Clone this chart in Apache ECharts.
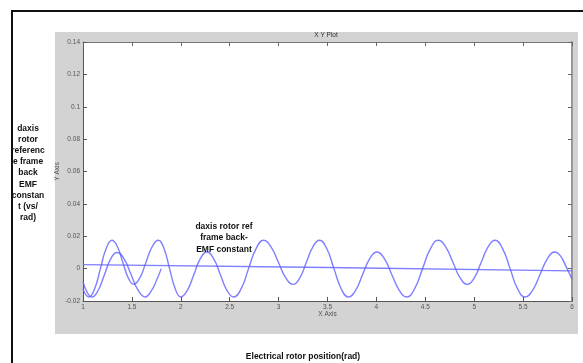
<!DOCTYPE html>
<html>
<head>
<meta charset="utf-8">
<script src="https://cdn.jsdelivr.net/npm/echarts@6/dist/echarts.min.js"></script>
<style>
html,body{margin:0;padding:0;background:#fff;}
#c{width:583px;height:363px;}
</style>
</head>
<body>
<div id="c"></div>
<script>
// ---- data ----
const xTicks = [1, 1.5, 2, 2.5, 3, 3.5, 4, 4.5, 5, 5.5, 6];
const yTicks = [-0.02, 0, 0.02, 0.04, 0.06, 0.08, 0.1, 0.12, 0.14];

// long oscillating curve: [x, y]
const longCurve = [
  [1.00, -0.0125], [1.03, -0.0162], [1.06, -0.0175],
  [1.119, -0.0124], [1.178, 0.0000], [1.237, 0.0124], [1.296, 0.0175],
  [1.352, 0.0135], [1.407, 0.0039], [1.463, -0.0057], [1.518, -0.0097],
  [1.581, -0.0057], [1.644, 0.0039], [1.707, 0.0135], [1.770, 0.0175],
  [1.828, 0.0124], [1.885, 0.0000], [1.943, -0.0124], [2.000, -0.0175],
  [2.067, -0.0134], [2.134, -0.0036], [2.200, 0.0062], [2.267, 0.0103],
  [2.335, 0.0062], [2.404, -0.0036], [2.472, -0.0134], [2.540, -0.0175],
  [2.617, -0.0124], [2.693, 0.0000], [2.770, 0.0124], [2.846, 0.0175],
  [2.922, 0.0135], [2.998, 0.0039], [3.074, -0.0057], [3.150, -0.0097],
  [3.217, -0.0057], [3.284, 0.0039], [3.351, 0.0135], [3.418, 0.0175],
  [3.492, 0.0124], [3.566, 0.0000], [3.640, -0.0124], [3.714, -0.0175],
  [3.787, -0.0134], [3.859, -0.0036], [3.932, 0.0062], [4.004, 0.0103],
  [4.081, 0.0062], [4.157, -0.0036], [4.234, -0.0134], [4.310, -0.0175],
  [4.391, -0.0124], [4.472, 0.0000], [4.553, 0.0124], [4.634, 0.0175],
  [4.708, 0.0135], [4.782, 0.0039], [4.856, -0.0057], [4.930, -0.0097],
  [5.001, -0.0057], [5.072, 0.0039], [5.142, 0.0135], [5.213, 0.0175],
  [5.290, 0.0124], [5.367, 0.0000], [5.443, -0.0124], [5.520, -0.0175],
  [5.597, -0.0134], [5.673, -0.0036], [5.750, 0.0062], [5.826, 0.0103],
  [5.880, 0.0080], [5.940, 0.0012], [6.000, -0.0065]
];
// short oscillating curve
const shortCurve = [
  [1.00, -0.008], [1.045, -0.0149], [1.09, -0.0175],
  [1.154, -0.0135], [1.219, -0.0038], [1.283, 0.0060], [1.347, 0.0100],
  [1.420, 0.0060], [1.492, -0.0038], [1.565, -0.0135], [1.637, -0.0175],
  [1.700, -0.0136], [1.750, -0.0075], [1.800, 0.0000]
];
// nearly flat line (back-EMF constant)
const flatLine = [[1, 0.0025], [3.5, 0.0007], [6, -0.0014]];

const leftLabel = 'daxis\nrotor\nreferenc\ne frame\nback\nEMF\nconstan\nt (vs/\nrad)';
const noteLabel = 'daxis rotor ref\nframe back-\nEMF constant';
const bottomLabel = 'Electrical rotor position(rad)';

const chart = echarts.init(document.getElementById('c'), null, {renderer: 'canvas'});
const lineColor = 'rgba(95,95,255,0.8)';
const fam = 'Liberation Sans, Arial, sans-serif';
const tickFont = {fontSize: 6.5, color: '#555', fontFamily: fam};

chart.setOption({
  animation: false,
  backgroundColor: '#fff',
  graphic: [
    {type: 'rect', z: -10, shape: {x: 55, y: 32, width: 523, height: 302}, style: {fill: '#d3d3d3'}},
    {type: 'line', z: 10, shape: {x1: 12, y1: 11, x2: 583, y2: 11}, style: {stroke: '#111', lineWidth: 2}},
    {type: 'line', z: 10, shape: {x1: 12, y1: 10, x2: 12, y2: 363}, style: {stroke: '#111', lineWidth: 2}},
    {type: 'text', x: 28, y: 173, style: {text: leftLabel, font: 'bold 8.5px ' + fam, fill: '#111', align: 'center', verticalAlign: 'middle', lineHeight: 11.2}},
    {type: 'text', x: 224, y: 238, z: 20, style: {text: noteLabel, font: 'bold 8.5px ' + fam, fill: '#111', align: 'center', verticalAlign: 'middle', lineHeight: 11.3}},
    {type: 'text', x: 303, y: 357, style: {text: bottomLabel, font: 'bold 8.5px ' + fam, fill: '#111', align: 'center', verticalAlign: 'middle'}}
  ],
  title: {
    text: 'X Y Plot', left: 326, top: 32, padding: 0, textAlign: 'center',
    textStyle: {fontSize: 6.5, fontWeight: 'normal', color: '#333', fontFamily: fam}
  },
  grid: {left: 83, right: 11, top: 42, bottom: 62, show: true, backgroundColor: '#fff', borderWidth: 0, containLabel: false},
  xAxis: [
    {
      type: 'value', position: 'bottom',
      min: xTicks[0], max: xTicks[xTicks.length - 1], interval: xTicks[1] - xTicks[0],
      name: 'X Axis', nameLocation: 'middle', nameGap: 10, nameMoveOverlap: false,
      nameTextStyle: tickFont,
      axisLine: {show: true, onZero: false, lineStyle: {color: '#555', width: 1}},
      axisTick: {show: true, inside: true, length: 4, lineStyle: {color: '#555'}},
      axisLabel: Object.assign({margin: 3, formatter: v => String(v)}, tickFont),
      splitLine: {show: false}
    },
    {
      type: 'value', position: 'top',
      min: xTicks[0], max: xTicks[xTicks.length - 1], interval: xTicks[1] - xTicks[0],
      axisLine: {show: true, onZero: false, lineStyle: {color: '#777', width: 1}},
      axisTick: {show: true, inside: true, length: 4, lineStyle: {color: '#666'}},
      axisLabel: {show: false},
      splitLine: {show: false}
    }
  ],
  yAxis: [
    {
      type: 'value', position: 'left',
      min: yTicks[0], max: yTicks[yTicks.length - 1], interval: yTicks[1] - yTicks[0],
      name: 'Y Axis', nameLocation: 'middle', nameGap: 22, nameRotate: 90, nameMoveOverlap: false,
      nameTextStyle: tickFont,
      axisLine: {show: true, onZero: false, lineStyle: {color: '#555', width: 1}},
      axisTick: {show: true, inside: true, length: 4, lineStyle: {color: '#555'}},
      axisLabel: Object.assign({margin: 3, formatter: v => String(Math.round(v * 100) / 100)}, tickFont),
      splitLine: {show: false}
    },
    {
      type: 'value', position: 'right',
      min: yTicks[0], max: yTicks[yTicks.length - 1], interval: yTicks[1] - yTicks[0],
      axisLine: {show: true, onZero: false, lineStyle: {color: '#999', width: 2}},
      axisTick: {show: true, inside: true, length: 4, lineStyle: {color: '#666'}},
      axisLabel: {show: false},
      splitLine: {show: false}
    }
  ],
  series: [
    {type: 'line', data: flatLine, showSymbol: false, smooth: false, lineStyle: {color: lineColor, width: 1.4}, silent: true},
    {type: 'line', data: longCurve, showSymbol: false, smooth: 0.5, lineStyle: {color: lineColor, width: 1.4}, silent: true},
    {type: 'line', data: shortCurve, showSymbol: false, smooth: 0.5, lineStyle: {color: lineColor, width: 1.4}, silent: true}
  ]
});
</script>
</body>
</html>
